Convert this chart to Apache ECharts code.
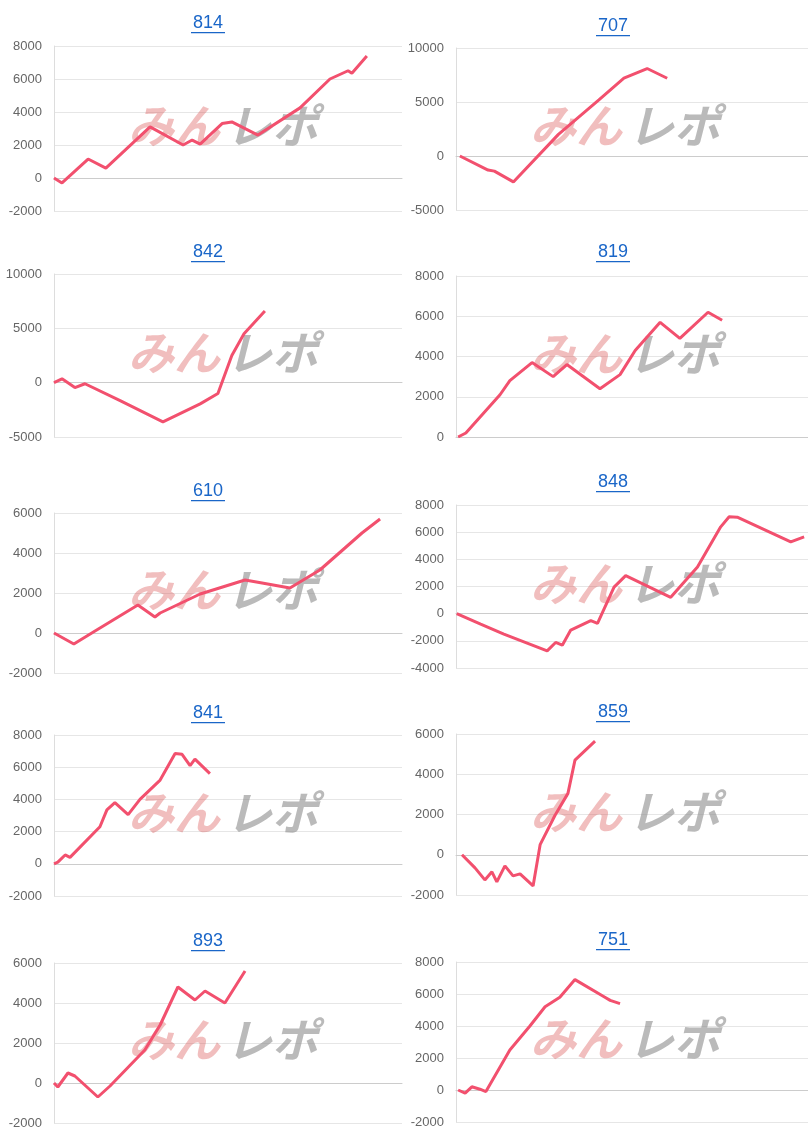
<!DOCTYPE html>
<html>
<head>
<meta charset="utf-8">
<script src="https://cdn.jsdelivr.net/npm/echarts@6/dist/echarts.min.js"></script>
<style>html,body{margin:0;padding:0;background:#fff}#main{width:808px;height:1142px}</style>
</head>
<body>
<div id="main"></div>
<script>
// 台番号
var titles = ['814', '707', '842', '819', '610', '848', '841', '859', '893', '751'];

// [x位置(0-100), 差枚]
var s814 = [[0,0],[2.3,-300],[9.8,1150],[14.9,600],[27.6,3100],[37.1,2000],[39.7,2300],[42,2050],[48.3,3300],[51.1,3400],[58.6,2600],[70.7,4250],[79.3,6000],[84.5,6500],[85.6,6350],[89.9,7400]];
var s707 = [[1.1,0],[9.1,-1300],[10.9,-1400],[16.3,-2400],[29.1,2000],[40.6,5200],[47.7,7200],[54.3,8100],[60,7200]];
var s842 = [[0,0],[2.3,350],[6,-450],[8.9,-100],[19,-1650],[31.3,-3600],[42,-1950],[47.1,-1000],[51.1,2500],[54.6,4500],[60.6,6600]];
var s819 = [[0.6,0],[2.8,200],[12.5,2100],[15.3,2800],[21.6,3700],[27.6,3000],[31.5,3600],[40.9,2400],[46.6,3100],[50.9,4300],[58,5700],[63.6,4900],[71.6,6200],[75.6,5800]];
var s610 = [[0,0],[5.7,-550],[11.8,100],[24.1,1400],[29,800],[30.5,1000],[42,1950],[54.9,2650],[59.8,2500],[67.8,2250],[76.4,3150],[83.6,4250],[88.5,5000],[93.7,5700]];
var s848 = [[0.2,0],[7,-770],[13.6,-1500],[25.9,-2740],[28.3,-2120],[30.2,-2320],[32.6,-1210],[38.3,-520],[40.2,-720],[44.9,1950],[48.2,2800],[61,1200],[68.6,3430],[75.2,6390],[77.6,7130],[79.9,7100],[95.1,5280],[98.9,5650]];
var s841 = [[0,0],[1.1,100],[3.2,550],[4.6,400],[13.2,2300],[15.2,3350],[17.5,3800],[21.3,3050],[24.7,4000],[30.5,5200],[34.8,6850],[36.8,6800],[39.1,6100],[40.5,6500],[44.8,5600]];
var s859 = [[1.7,0],[5.4,-650],[8.2,-1250],[10.2,-850],[11.6,-1350],[13.9,-550],[16.2,-1050],[18.2,-950],[21.9,-1550],[23.9,500],[28.1,1950],[31.8,3050],[33.8,4700],[39.5,5650]];
var s893 = [[0,0],[1.1,-200],[4,500],[6,350],[12.6,-700],[16.1,-150],[26.1,1650],[30.5,2900],[35.6,4800],[40.5,4150],[43.4,4600],[49.1,4000],[54.9,5600]];
var s751 = [[0.6,0],[2.6,-200],[4.5,200],[6.8,50],[8.5,-100],[15.3,2500],[21,4000],[25.3,5200],[29.5,5800],[33.8,6900],[42.3,5800],[43.8,5600],[46.6,5400]];
var seriesData = [s814, s707, s842, s819, s610, s848, s841, s859, s893, s751];

// 縦軸 [min, max, interval]
var yRanges = [[-2000,8000,2000],[-5000,10000,5000],[-5000,10000,5000],[0,8000,2000],[-2000,6000,2000],[-4000,8000,2000],[-2000,8000,2000],[-2000,6000,2000],[-2000,6000,2000],[-2000,8000,2000]];

// レイアウト
var gridTop = [46,48,274,276,513,505,735,734,963,962];
var gridBottom = [211,210,437,437,673,668,896,895,1123,1122];
var titleY = [23,26,252,252,491,482,713,712,941,940];

var grids = [], xAxes = [], yAxes = [], series = [], graphics = [];
for (var i = 0; i < 10; i++) {
    var right = i % 2 === 1;
    var left = right ? 456 : 54;
    var width = right ? 352 : 348;
    var cx = right ? 613 : 208;
    grids.push({left: left, width: width, top: gridTop[i], height: gridBottom[i] - gridTop[i]});
    xAxes.push({type: 'value', gridIndex: i, min: 0, max: 100,
        axisLabel: {show: false}, axisTick: {show: false}, splitLine: {show: false},
        axisLine: {lineStyle: {color: '#ccc'}}});
    yAxes.push({type: 'value', gridIndex: i, min: yRanges[i][0], max: yRanges[i][1], interval: yRanges[i][2],
        axisLine: {show: true, lineStyle: {color: '#ddd'}}, axisTick: {show: false},
        axisLabel: {color: '#666', fontSize: 13, fontFamily: 'Arial, Liberation Sans', margin: 12,
            formatter: function (v) { return String(v); }},
        splitLine: {lineStyle: {color: '#e6e6e6'}}});
    series.push({type: 'line', xAxisIndex: i, yAxisIndex: i, data: seriesData[i], symbol: 'none',
        lineStyle: {color: '#f2506e', width: 3}, z: 5});
    // タイトル(リンク風)
    graphics.push({type: 'text', x: cx, y: titleY[i], z: 10,
        style: {text: titles[i], fill: '#1a66c8', fontSize: 18, fontFamily: 'Arial, Liberation Sans',
            align: 'center', verticalAlign: 'middle'}});
    graphics.push({type: 'rect', z: 10, shape: {x: cx - 17, y: titleY[i] + 9, width: 34, height: 1.3}, style: {fill: '#1a66c8'}});
    // ウォーターマーク
    var wy = (gridTop[i] + gridBottom[i]) / 2 - 26;
    graphics.push({type: 'text', x: left + 74, y: wy, z: 1,
        style: {text: 'みん', fill: 'rgba(215,70,70,0.35)', fontSize: 46, fontWeight: 'bold', fontStyle: 'italic', fontFamily: 'Noto Sans CJK JP'}});
    graphics.push({type: 'text', x: left + 172, y: wy, z: 1,
        style: {text: 'レポ', fill: 'rgba(140,140,140,0.6)', fontSize: 46, fontWeight: 'bold', fontStyle: 'italic', fontFamily: 'Noto Sans CJK JP'}});
}

var myChart = echarts.init(document.getElementById('main'));
myChart.setOption({
    animation: false,
    grid: grids,
    xAxis: xAxes,
    yAxis: yAxes,
    series: series,
    graphic: graphics
});
</script>
</body>
</html>
